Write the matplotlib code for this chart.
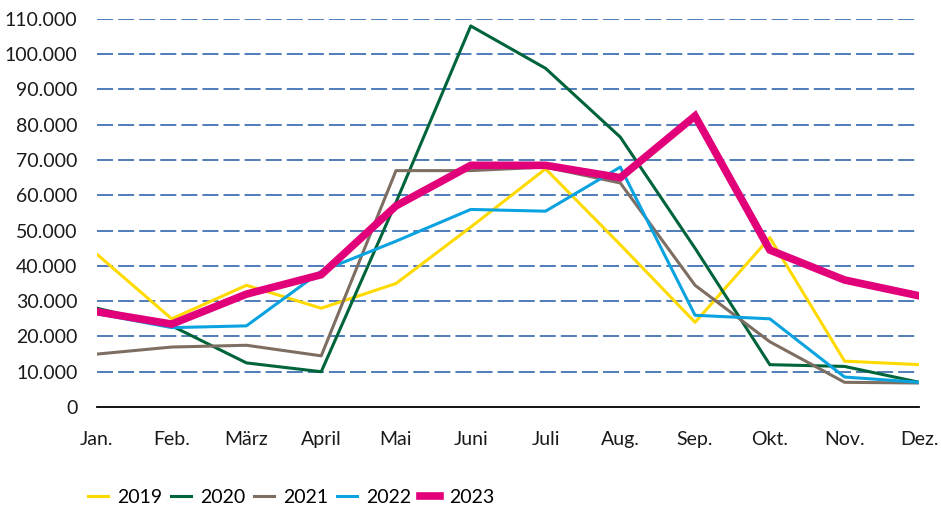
import matplotlib.pyplot as plt
from matplotlib.ticker import FuncFormatter

monate = ["Jan.", "Feb.", "März", "April", "Mai", "Juni", "Juli", "Aug.", "Sep.", "Okt.", "Nov.", "Dez."]

w2019 = [43300, 25000, 34500, 28000, 35000, 51000, 67500, 46000, 24000, 48000, 13000, 12000]
w2020 = [28000, 23000, 12500, 10000, 58000, 108000, 96000, 76500, 45000, 12000, 11500, 7000]
w2021 = [15000, 17000, 17500, 14500, 67000, 67000, 68000, 63500, 34500, 18500, 7000, 6800]
w2022 = [26500, 22500, 23000, 38500, 47000, 56000, 55500, 68000, 26000, 25000, 8500, 7000]
w2023 = [27000, 23500, 32000, 37500, 57000, 68500, 68500, 65000, 82500, 44500, 36000, 31500]

plt.rcParams['font.family'] = ['Lato', 'DejaVu Sans']

fig = plt.figure(figsize=(9.41, 5.11), dpi=100)
ax = fig.add_axes([0.103, 0.2035, 0.874, 0.7595])

x = range(len(monate))
ax.plot(x, w2019, color="#FFDA00", lw=2.2, label="2019")
ax.plot(x, w2020, color="#00643A", lw=2.2, label="2020")
ax.plot(x, w2021, color="#7E6E62", lw=2.2, label="2021")
ax.plot(x, w2022, color="#0AA3E0", lw=2.2, label="2022")
ax.plot(x, w2023, color="#E2007A", lw=5.5, label="2023", solid_joinstyle="miter")

ax.set_xlim(0, len(monate) - 1)
ax.set_ylim(0, 110000)
ax.set_yticks(range(0, 110001, 10000))
ax.yaxis.set_major_formatter(FuncFormatter(lambda v, p: "0" if v == 0 else f"{int(v):,}".replace(",", ".")))
ax.set_xticks(list(x))
ax.set_xticklabels(monate)

# gestrichelte Gitterlinien
for v in range(10000, 110001, 10000):
    ax.axhline(v, color="#1F5AA6", lw=1.1, dashes=(10.5, 3.3), zorder=0)

for s in ["top", "right", "left"]:
    ax.spines[s].set_visible(False)
ax.spines["bottom"].set_color("black")
ax.spines["bottom"].set_linewidth(1.3)
ax.tick_params(axis="both", length=0, labelsize=14, colors="#1a1a1a")
ax.tick_params(axis="x", pad=17)
ax.tick_params(axis="y", pad=14)
for lbl in ax.get_xticklabels():
    lbl.set_clip_on(False)

leg = fig.legend(loc="lower left", bbox_to_anchor=(0.075, -0.025), ncol=5, frameon=False,
                 fontsize=14, handlelength=1.0, handletextpad=0.5, columnspacing=0.45)

fig.savefig("out.png", dpi=100)
